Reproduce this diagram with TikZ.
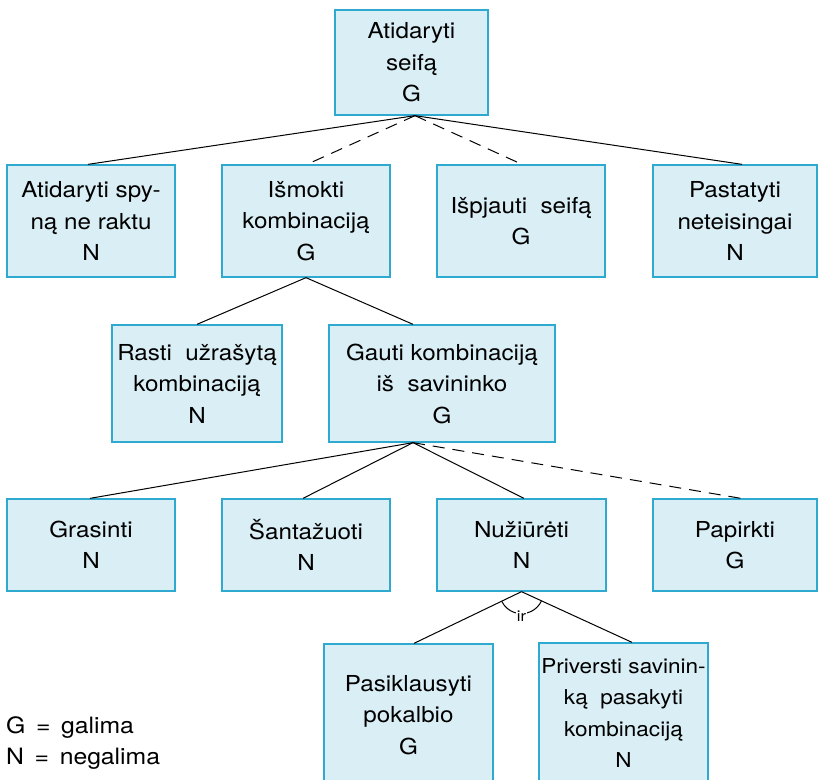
\documentclass[tikz,border=0pt]{standalone}
\usepackage{fontspec}
\setmainfont{TeX Gyre Heros}[FakeStretch=1.1]
\usetikzlibrary{calc}
\definecolor{boxfill}{RGB}{218,238,245}
\definecolor{boxline}{RGB}{46,170,208}
\begin{document}
\begin{tikzpicture}[x=1pt,y=-1pt,
  goal/.style={draw=boxline, fill=boxfill, line width=1.3pt, rectangle,
    align=center, inner sep=2pt, font=\fontsize{22}{31.5}\selectfont},
  link/.style={line width=1pt, draw=black},
  maybe/.style={link, dash pattern=on 12pt off 8pt},
  legend/.style={anchor=base west, inner sep=0pt, font=\fontsize{22.5}{26}\selectfont}]
\useasboundingbox (0,0) rectangle (818,779);
\clip (0,0) rectangle (818,779);

% root goal
\node[goal, minimum width=153pt, minimum height=105pt] (root) at (411.5,62.5) {Atidaryti\\seifą\\G};

% second level
\node[goal, minimum width=168pt, minimum height=112pt] (a) at (91,221) {Atidaryti spy-\\ną ne raktu\\N};
\node[goal, minimum width=168pt, minimum height=112pt] (b) at (306,221) {Išmokti\\kombinaciją\\G};
\node[goal, minimum width=168pt, minimum height=112pt] (c) at (521,221) {Išpjauti\ \ seifą\\G};
\node[goal, minimum width=164pt, minimum height=112pt] (d) at (735,221) {Pastatyti\\neteisingai\\N};

% third level
\node[goal, minimum width=170pt, minimum height=117pt] (rasti) at (197,383.5) {Rasti\ \ užrašytą\\kombinaciją\\N};
\node[goal, minimum width=226pt, minimum height=117pt] (gauti) at (442,383.5) {Gauti kombinaciją\\iš\ \ savininko\\G};

% fourth level
\node[goal, minimum width=168pt, minimum height=92pt] (gras) at (91,545) {Grasinti\\N};
\node[goal, minimum width=168pt, minimum height=92pt] (sant) at (306,545) {Šantažuoti\\N};
\node[goal, minimum width=169pt, minimum height=92pt] (nuz) at (521.5,545) {Nužiūrėti\\N};
\node[goal, minimum width=164pt, minimum height=92pt] (pap) at (735,545) {Papirkti\\G};

% fifth level
\node[goal, minimum width=169pt, minimum height=142pt] (pas) at (408.5,715) {Pasiklausyti\\pokalbio\\G};
\node[goal, minimum width=169pt, minimum height=140pt, font=\fontsize{20.5}{31.5}\selectfont] (priv) at (623.5,713) {Priversti savinin-\\ką\ \ pasakyti\\kombinaciją\\N};

% connectors
\coordinate (rootj) at ([xshift=3.5pt]root.south);
\draw[link]  (rootj) -- ([xshift=-3pt]a.north);
\draw[maybe] (rootj) -- ([xshift=1pt]b.north);
\draw[maybe] (rootj) -- ([xshift=1pt]c.north);
\draw[link]  (rootj) -- ([xshift=7pt]d.north);

\draw[link] (b.south) -- (rasti.north);
\draw[link] (b.south) -- ([xshift=-29pt]gauti.north);

\coordinate (gautij) at ([xshift=-29pt]gauti.south);
\draw[link]  (gautij) -- ([xshift=-1pt]gras.north);
\draw[link]  (gautij) -- ([xshift=-3pt]sant.north);
\draw[link]  (gautij) -- ([xshift=2.5pt]nuz.north);
\draw[maybe] (gautij) -- ([xshift=6pt]pap.north);

\draw[link] (nuz.south) -- ([xshift=5.5pt]pas.north);
\draw[link] (nuz.south) -- ([xshift=8.5pt]priv.north);

% AND arc
\draw[link] ($(nuz.south)+(154:22)$) arc[start angle=154, end angle=25, radius=22];
\node[fill=white, inner sep=1pt, font=\fontsize{15}{15}\selectfont] (ir) at ($(nuz.south)+(0,25)$) {ir};

% legend
\node[legend] (legg) at (6,733) {G\,\ =\,\ galima};
\node[legend] (legn) at (6,764) {N\,\ =\,\ negalima};
\end{tikzpicture}
\end{document}
